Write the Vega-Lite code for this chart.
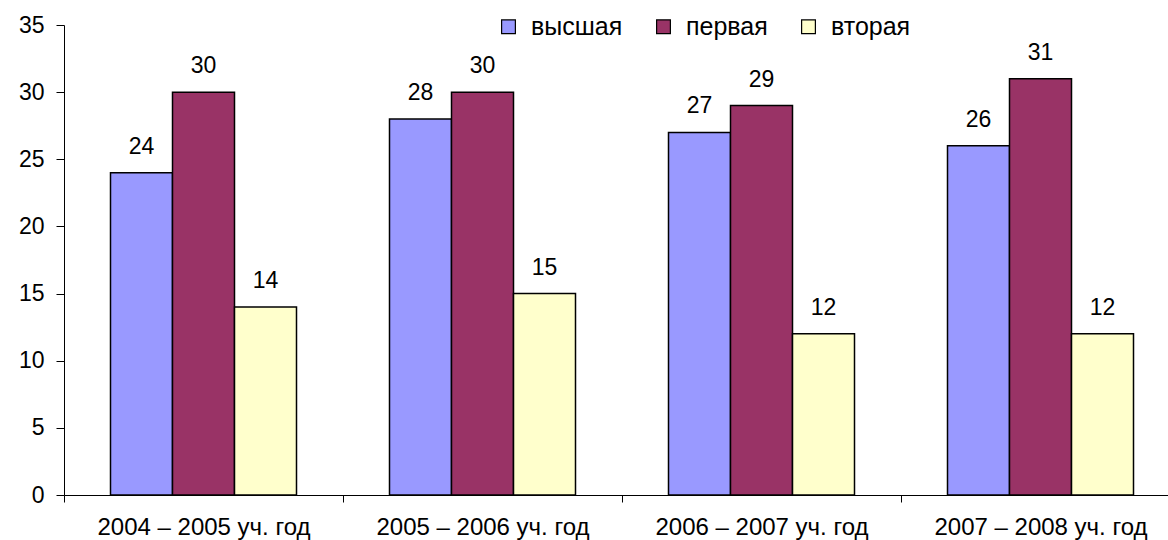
{
  "$schema": "https://vega.github.io/schema/vega-lite/v6.json",
  "width": 1104,
  "height": 470,
  "autosize": {"type": "none"},
  "padding": {"left": 64, "top": 25, "right": 0, "bottom": 45},
  "background": "white",
  "config": {"view": {"stroke": null}, "font": "Liberation Sans"},
  "data": {
    "values": [
      {"year": "2004 – 2005 уч. год", "cat": "высшая", "value": 24},
      {"year": "2004 – 2005 уч. год", "cat": "первая", "value": 30},
      {"year": "2004 – 2005 уч. год", "cat": "вторая", "value": 14},
      {"year": "2005 – 2006 уч. год", "cat": "высшая", "value": 28},
      {"year": "2005 – 2006 уч. год", "cat": "первая", "value": 30},
      {"year": "2005 – 2006 уч. год", "cat": "вторая", "value": 15},
      {"year": "2006 – 2007 уч. год", "cat": "высшая", "value": 27},
      {"year": "2006 – 2007 уч. год", "cat": "первая", "value": 29},
      {"year": "2006 – 2007 уч. год", "cat": "вторая", "value": 12},
      {"year": "2007 – 2008 уч. год", "cat": "высшая", "value": 26},
      {"year": "2007 – 2008 уч. год", "cat": "первая", "value": 31},
      {"year": "2007 – 2008 уч. год", "cat": "вторая", "value": 12}
    ]
  },
  "encoding": {
    "x": {
      "field": "year",
      "type": "nominal",
      "sort": null,
      "scale": {"range": [0, 1116], "paddingInner": 0, "paddingOuter": 0},
      "axis": {
        "title": null,
        "labelAngle": 0,
        "labelFontSize": 24,
        "labelLimit": 0,
        "labelOverlap": false,
        "labelColor": "black",
        "labelPadding": 13,
        "tickSize": 7,
        "tickBand": "extent",
        "tickColor": "black",
        "domainColor": "black"
      }
    },
    "xOffset": {
      "field": "cat",
      "type": "nominal",
      "sort": ["высшая", "первая", "вторая"],
      "scale": {"paddingInner": 0, "paddingOuter": 0.75}
    },
    "y": {
      "field": "value",
      "type": "quantitative",
      "scale": {"domain": [0, 35], "nice": false},
      "axis": {
        "title": null,
        "values": [0, 5, 10, 15, 20, 25, 30, 35],
        "grid": false,
        "labelFontSize": 23,
        "labelColor": "black",
        "labelPadding": 12,
        "tickSize": 8,
        "tickColor": "black",
        "domainColor": "black"
      }
    }
  },
  "layer": [
    {
      "mark": {"type": "bar", "stroke": "black", "strokeWidth": 1.5},
      "encoding": {
        "color": {
          "field": "cat",
          "type": "nominal",
          "sort": ["высшая", "первая", "вторая"],
          "scale": {"domain": ["высшая", "первая", "вторая"], "range": ["#9999FF", "#993366", "#FFFFCC"]},
          "legend": {
            "title": null,
            "orient": "none",
            "direction": "horizontal",
            "legendX": 432,
            "legendY": -11,
            "symbolType": "square",
            "symbolSize": 190,
            "symbolStrokeColor": "black",
            "symbolStrokeWidth": 1.2,
            "symbolOpacity": 1,
            "labelFontSize": 25,
            "labelLimit": 0,
            "labelColor": "black",
            "labelOffset": 10,
            "columnPadding": 28
          }
        }
      }
    },
    {
      "mark": {"type": "text", "dy": -19, "baseline": "alphabetic", "fontSize": 23, "color": "black"},
      "encoding": {"text": {"field": "value", "type": "quantitative"}}
    }
  ]
}
